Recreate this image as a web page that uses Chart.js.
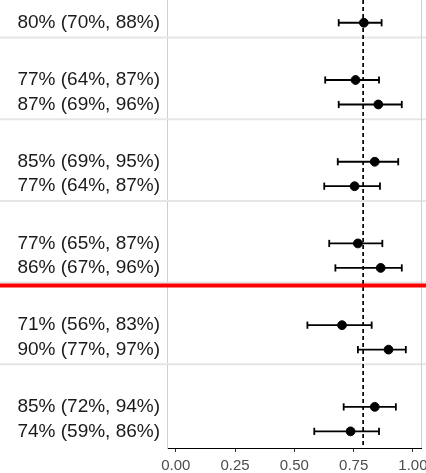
<!DOCTYPE html>
<html>
<head>
<meta charset="utf-8">
<script src="https://cdn.jsdelivr.net/npm/chart.js@4"></script>
<style>
  html, body { margin: 0; padding: 0; background: #fff; }
</style>
</head>
<body>
<canvas id="myChart" width="426" height="473"></canvas>
<script>
// row labels (estimate with 95% CI), top to bottom
const labels = ['80% (70%, 88%)', '77% (64%, 87%)', '87% (69%, 96%)', '85% (69%, 95%)', '77% (64%, 87%)',
    '77% (65%, 87%)', '86% (67%, 96%)', '71% (56%, 83%)', '90% (77%, 97%)', '85% (72%, 94%)', '74% (59%, 86%)'];
// which panel each row sits in, and its slot inside that panel
const groups = [0, 1, 1, 2, 2, 3, 3, 4, 4, 5, 5];
const slots = [1, 0, 1, 0, 1, 0, 1, 0, 1, 0, 1];
// point estimates and interval ends as plotted
const est = [0.793, 0.758, 0.854, 0.839, 0.754, 0.768, 0.864, 0.701, 0.897, 0.839, 0.737];
const lo = [0.687, 0.630, 0.687, 0.683, 0.626, 0.647, 0.673, 0.555, 0.768, 0.708, 0.584];
const hi = [0.868, 0.857, 0.953, 0.938, 0.861, 0.871, 0.953, 0.826, 0.970, 0.928, 0.857];
const xTicks = [0, 0.25, 0.5, 0.75, 1];
const refLine = 0.79;

const groupStep = 3.34;
const yOf = (i) => groups[i] * groupStep + slots[i];
const rowY = labels.map((l, i) => yOf(i));
// panel separators sit between groups
const separators = [0, 1, 2, 3, 4].map(g => g * groupStep + 1.6);
const redLineAt = 3 * groupStep + 1.72;
const yMin = 0.07, yMax = 18.38;

// error bars, one small dataset per row
const barSets = labels.map((l, i) => ({
    data: [{x: lo[i], y: rowY[i]}, {x: hi[i], y: rowY[i]}],
    showLine: true,
    borderColor: '#000',
    borderWidth: 1.8,
    pointStyle: 'line',
    pointRotation: 90,
    pointRadius: 3.6,
    pointBorderColor: '#000',
    pointBorderWidth: 1.8
}));

const refSet = {
    data: [{x: refLine, y: yMin}, {x: refLine, y: yMax}],
    showLine: true,
    borderColor: '#000',
    borderWidth: 1.7,
    borderDash: [4, 3],
    pointRadius: 0
};

const pointSet = {
    data: est.map((v, i) => ({x: v, y: rowY[i]})),
    pointRadius: 4.4,
    pointBackgroundColor: '#000',
    pointBorderColor: '#000',
    showLine: false
};

// gray panel lines behind, red divider on top
const panelLines = {
    id: 'panelLines',
    beforeDatasetsDraw(chart) {
        const ctx = chart.ctx, area = chart.chartArea, ys = chart.scales.y;
        ctx.save();
        ctx.strokeStyle = '#e6e6e6';
        ctx.lineWidth = 2;
        separators.forEach(s => {
            const py = ys.getPixelForValue(s);
            ctx.beginPath();
            ctx.moveTo(0, py);
            ctx.lineTo(chart.width, py);
            ctx.stroke();
        });
        ctx.strokeStyle = '#cfcfcf';
        ctx.lineWidth = 1;
        ctx.beginPath();
        ctx.moveTo(area.right + 0.5, 0);
        ctx.lineTo(area.right + 0.5, area.bottom);
        ctx.stroke();
        ctx.restore();
    },
    afterDatasetsDraw(chart) {
        const ctx = chart.ctx, py = chart.scales.y.getPixelForValue(redLineAt);
        ctx.save();
        ctx.strokeStyle = '#ff0000';
        ctx.lineWidth = 4;
        ctx.beginPath();
        ctx.moveTo(0, py);
        ctx.lineTo(chart.width, py);
        ctx.stroke();
        ctx.restore();
    }
};

const ctx = document.getElementById('myChart').getContext('2d');
const forestChart = new Chart(ctx, {
    type: 'scatter',
    data: {datasets: [refSet].concat(barSets, [pointSet])},
    options: {
        responsive: false,
        animation: false,
        layout: {autoPadding: false, padding: {top: 0, right: 5, bottom: 0, left: 0}},
        plugins: {legend: {display: false}, tooltip: {enabled: false}},
        scales: {
            x: {
                type: 'linear',
                min: -0.037,
                max: 1.034,
                afterBuildTicks: (scale) => { scale.ticks = xTicks.map(v => ({value: v})); },
                afterFit: (scale) => {
                    scale.height = 25;
                    scale.paddingLeft = 0;
                    scale.paddingRight = 0;
                },
                grid: {drawOnChartArea: false, drawTicks: true, tickLength: 4, tickColor: '#333', tickWidth: 1},
                border: {color: '#000', width: 1},
                ticks: {
                    padding: 5,
                    color: '#4d4d4d',
                    font: {family: 'Liberation Sans, Arial', size: 15},
                    callback: (v) => Number(v).toFixed(2)
                }
            },
            y: {
                type: 'linear',
                reverse: true,
                min: yMin,
                max: yMax,
                afterBuildTicks: (scale) => { scale.ticks = rowY.map(v => ({value: v})); },
                afterFit: (scale) => {
                    scale.width = 167;
                    scale.paddingTop = 0;
                    scale.paddingBottom = 0;
                },
                grid: {display: false, drawTicks: false},
                border: {color: '#cfcfcf', width: 1},
                ticks: {
                    autoSkip: false,
                    padding: 7,
                    color: '#1a1a1a',
                    font: {family: 'Liberation Sans, Arial', size: 19},
                    callback: (v) => labels[rowY.indexOf(v)]
                }
            }
        }
    },
    plugins: [panelLines]
});
</script>
</body>
</html>
